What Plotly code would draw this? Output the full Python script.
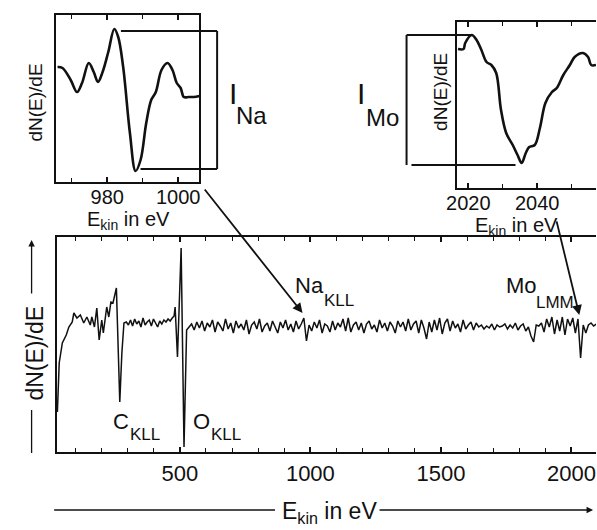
import plotly.graph_objects as go

W, H = 597, 530
FONT = "Liberation Sans, Arial, Helvetica, sans-serif"
INK = "#111111"

# ---------------- data ----------------
# main survey spectrum (kinetic energy in eV, derivative signal in arb. units)
main_E = [31, 38, 50, 65, 75, 88, 94, 106, 119, 132, 144, 157, 163, 173, 182, 191, 201, 207, 220, 228,
          236, 244, 257, 270, 278, 286,
          295, 303, 311, 319, 327, 335, 343, 351, 359, 367, 375, 383, 391, 399, 407, 415, 423, 431, 439,
          447, 455, 463, 471, 478,
          482, 491, 505, 516, 526, 536,
          545, 555, 565, 575, 585, 595, 605, 615, 625, 635,
          645, 655, 665, 675, 685, 695, 705, 715, 725, 735,
          745, 755, 765, 775, 785, 795, 805, 815, 825, 835,
          845, 855, 865, 875, 885, 895, 905, 915, 925, 935,
          945, 955, 965, 975, 985, 995, 1005, 1015, 1025, 1035,
          1045, 1055, 1065, 1075, 1085, 1095, 1105, 1115, 1125, 1135,
          1145, 1155, 1165, 1175, 1185, 1195, 1205, 1215, 1225, 1235,
          1245, 1255, 1265, 1275, 1285, 1295, 1305, 1315, 1325, 1335,
          1345, 1355, 1365, 1375, 1385, 1395, 1405, 1415, 1425, 1435,
          1445, 1455, 1465, 1475, 1485, 1495, 1505, 1515, 1525, 1535,
          1545, 1555, 1565, 1575, 1585, 1595, 1605, 1615, 1625, 1635,
          1645, 1655, 1665, 1675, 1685, 1695, 1705, 1715, 1725, 1735,
          1745, 1755, 1765, 1775, 1785, 1795, 1805, 1815, 1825, 1835,
          1845, 1855, 1865, 1875, 1885, 1895, 1905, 1915, 1925, 1935,
          1945, 1955, 1965, 1975, 1985, 1995, 2005, 2015, 2025, 2035,
          2045, 2055, 2065, 2075, 2085, 2095]
main_dNdE = [-84, -35, -15, -7, 1, 6, 15, 10, 13, 5, 11, 3, 11, 1, 20, -12, 8, -5, 21, 11,
             26, 25, 40, -74, -25, 5,
             6, 3, 8, 2, 9, 4, 7, 1, 10, 3, 6, 8, 2, 9, 5, 1, 7, 4, 8,
             6, 9, 7, 10, 12,
             21, -29, 80, -119, -2, 1,
             4, -2, 6, 0, 7, -3, 5, 1, 8, -4,
             6, 2, -3, 9, -1, 5, -5, 7, 0, 4,
             -2, 8, -6, 3, 6, -1, 9, -4, 2, 5,
             -3, 7, 1, -5, 6, 0, 8, -2, 4, -4,
             7, -1, 4, 10, -13, 3, -3, 6, 0, 8,
             -5, 4, 2, -4, 7, -2, 5, 1, 9, -3,
             10, -4, 3, 6, -2, 5, -5, 4, 7, -1,
             3, -4, 8, 0, 5, -3, 6, 2, -5, 7,
             1, 6, -3, 9, -2, 4, 7, -5, 8, 0,
             -11, 6, -4, 8, -2, 10, -6, 5, 9, -3,
             7, 0, 4, -4, 8, -1, 3, 6, -2, 5,
             1, 3, -1, 2, 0, 4, -2, 3, 1, 2,
             4, -1, 3, 0, 5, -2, 2, 4, -3, 1,
             -8, -14, 3, 2, 5, -4, 9, 1, 11, -6,
             8, -3, 11, -7, 9, 2, 10, -5, 9, -30,
             3, -5, 3, 5, 2, 4]

# Na KLL detail
na_E = [966.0, 967.4, 969.7, 971.5, 972.9, 974.8, 976.2, 977.4, 978.7, 980.3, 982.0, 983.1, 984.5,
        986.4, 988.0, 989.4, 991.0, 992.4, 993.7, 995.3, 997.0, 998.4, 999.6, 1000.7, 1001.6,
        1003.0, 1004.4, 1006.0]
na_dNdE = [115, 114, 102, 90, 99, 119, 110, 100, 110, 130, 153, 145, 115,
           49, 11, 22, 59, 82, 90, 112, 119, 112, 99, 94, 85,
           85, 85, 86]

# Mo LMM detail
mo_E = [2017.0, 2018.6, 2019.1, 2021.0, 2022.4, 2023.8, 2025.3, 2026.7, 2028.1, 2029.5, 2031.0,
        2032.9, 2034.3, 2035.5, 2036.7, 2037.7, 2039.3, 2040.8, 2042.4, 2044.3, 2045.7, 2047.6,
        2049.5, 2050.9, 2053.3, 2054.8, 2055.7, 2057.1]
mo_dNdE = [139, 139, 145, 153, 148, 138, 126, 123, 115, 78, 55,
           43, 33, 25, 35, 41, 43, 60, 85, 96, 100, 113,
           123, 131, 135, 131, 123, 123]

# peak labels (text, subscript)
peak_labels = [("C", "KLL"), ("O", "KLL"), ("Na", "KLL"), ("Mo", "LMM")]


def P(x, y):
    """pixel position -> paper coordinates"""
    return x / W, 1 - y / H


fig = go.Figure()
fig.add_trace(go.Scatter(x=main_E, y=main_dNdE, mode="lines",
                         line=dict(color=INK, width=1.5), xaxis="x", yaxis="y",
                         hoverinfo="skip", showlegend=False))
fig.add_trace(go.Scatter(x=na_E, y=na_dNdE, mode="lines", line_shape="spline",
                         line=dict(color=INK, width=2.6), xaxis="x2", yaxis="y2",
                         hoverinfo="skip", showlegend=False))
fig.add_trace(go.Scatter(x=mo_E, y=mo_dNdE, mode="lines", line_shape="spline",
                         line=dict(color=INK, width=2.6), xaxis="x3", yaxis="y3",
                         hoverinfo="skip", showlegend=False))


def xax(anchor, domain, rng, tick0, dtick, mdtick, size, lw, standoff):
    return dict(anchor=anchor, domain=domain, range=rng, showline=True, linecolor=INK,
                linewidth=lw, mirror="ticks", ticks="inside", ticklen=5, tickwidth=1.5,
                tickcolor=INK, tick0=tick0, dtick=dtick, showgrid=False, zeroline=False,
                ticklabelstandoff=standoff,
                minor=dict(dtick=mdtick, tick0=tick0, ticks="inside", ticklen=4,
                           tickwidth=1.3, tickcolor=INK, showgrid=False),
                tickfont=dict(family=FONT, size=size, color=INK))


def yax(anchor, domain, rng, mirror, lw):
    return dict(anchor=anchor, domain=domain, range=rng, showline=True, linecolor=INK,
                linewidth=lw, mirror=mirror, ticks="", showticklabels=False,
                showgrid=False, zeroline=False)


fig.update_layout(
    width=W, height=H, margin=dict(l=0, r=0, t=0, b=0),
    paper_bgcolor="white", plot_bgcolor="rgba(0,0,0,0)",
    font=dict(family=FONT, color=INK),
    xaxis=xax("y", [48 / W, 1.0], [30, 2094], 0, 500, 100, 22, 1.5, 1),
    yaxis=yax("x", [1 - 452 / H, 1 - 237 / H], [-124, 91], False, 1.5),
    xaxis2=xax("y2", [47 / W, 193 / W], [965.6, 1006], 960, 20, 10, 20, 2, -4),
    yaxis2=yax("x2", [1 - 182 / H, 1 - 15 / H], [0, 167], True, 2),
    xaxis3=xax("y3", [455 / W, 1.0], [2016.6, 2057.1], 2000, 20, 10, 20, 2, -4),
    yaxis3=yax("x3", [1 - 188 / H, 1 - 22 / H], [0, 166], False, 2),
)

anns = []


def text(t, x, y, size, angle=0):
    px, py = P(x, y)
    anns.append(dict(text=t, x=px, y=py, xref="paper", yref="paper", showarrow=False,
                     xanchor="center", yanchor="middle", textangle=angle,
                     font=dict(family=FONT, size=size, color=INK)))


# axis titles
text("dN(E)/dE", 25, 353, 23, -90)
text("E<sub>kin</sub> in eV", 325, 512, 23)
text("dN(E)/dE", 25, 103, 19, -90)
text("E<sub>kin</sub> in eV", 121, 220, 20)
text("dN(E)/dE", 439, 92, 19, -90)
text("E<sub>kin</sub> in eV", 516, 226, 20)

# peak labels in main spectrum
lab_pos = [((113, 421), (138, 434)), ((195, 421), (220, 434)),
           ((305, 285), (335, 300)), ((521, 285), (555, 302))]
for (main, sub), ((x1, y1), (x2, y2)) in zip(peak_labels, lab_pos):
    text(main, x1, y1, 22)
    text(sub, x2, y2, 17)

# amplitude labels
text("I", 227, 94, 30)
text("Na", 246, 116, 24)
text("I", 358, 94, 30)
text("Mo", 379, 117, 24)

# arrows from insets to peaks
anns.append(dict(x=970, y=15, xref="x", yref="y", ax=-99, ay=-125, text="",
                 showarrow=True, arrowhead=2, arrowsize=1.1, arrowwidth=1.8,
                 arrowcolor=INK))
anns.append(dict(x=2030, y=13, xref="x", yref="y", ax=-23, ay=-95, text="",
                 showarrow=True, arrowhead=2, arrowsize=1.1, arrowwidth=1.8,
                 arrowcolor=INK))
# axis-title arrows
px_, py_ = P(22, 240)
anns.append(dict(x=px_, y=py_, xref="paper", yref="paper", ax=0, ay=55, text="",
                 showarrow=True, arrowhead=2, arrowsize=1, arrowwidth=1.3, arrowcolor=INK))
px_, py_ = P(594, 510)
anns.append(dict(x=px_, y=py_, xref="paper", yref="paper", ax=-215, ay=0, text="",
                 showarrow=True, arrowhead=2, arrowsize=1, arrowwidth=1.3, arrowcolor=INK))

shapes = []


def seg(x0, y0, x1, y1, w=2):
    a, b = P(x0, y0)
    c, d = P(x1, y1)
    shapes.append(dict(type="line", x0=a, y0=b, x1=c, y1=d, xref="paper", yref="paper",
                       line=dict(color=INK, width=w)))


# Na amplitude bracket
seg(113, 31, 211, 31)
seg(211, 31, 211, 169)
seg(133, 169, 211, 169)
# Mo amplitude bracket
seg(404, 35, 470, 35)
seg(404, 35, 404, 165)
seg(409, 165, 515, 165)
# axis-title lines
seg(22, 410, 22, 453, 1.3)
seg(45, 510, 270, 510, 1.3)

fig.update_layout(annotations=anns, shapes=shapes)
fig.write_html("out.html", config={"displayModeBar": False},
               post_script="document.body.style.margin='0';"
                           "document.body.style.overflow='hidden';")
